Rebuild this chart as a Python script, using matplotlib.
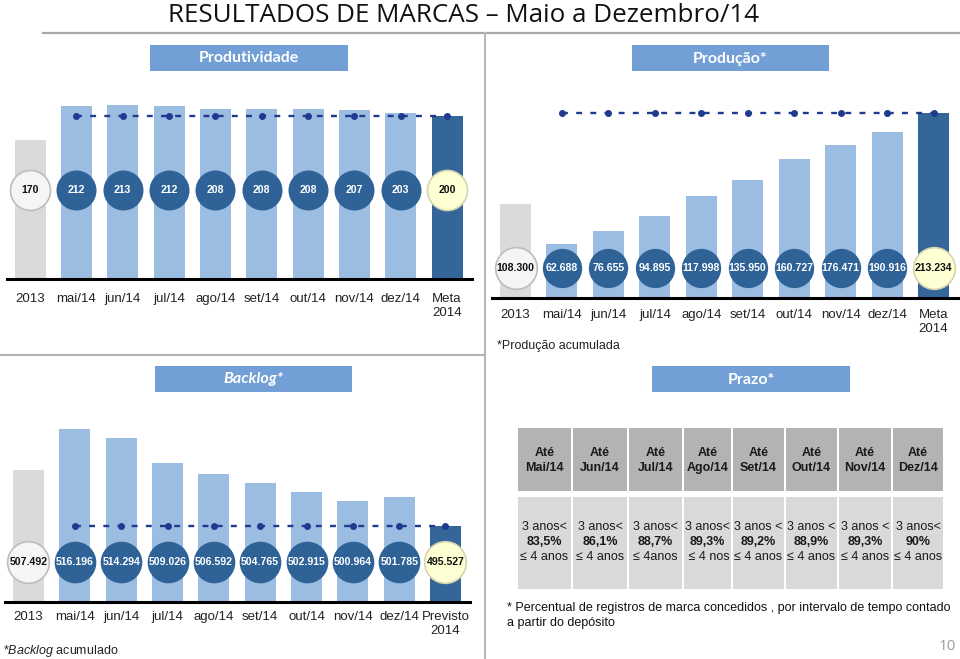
import numpy as np
import matplotlib.pyplot as plt
from matplotlib.patches import Rectangle

plt.rcParams['font.family'] = ['Liberation Sans', 'DejaVu Sans']
plt.rcParams['mathtext.fontset'] = 'custom'
plt.rcParams['mathtext.rm'] = 'Liberation Sans'
plt.rcParams['mathtext.it'] = 'Liberation Sans:italic'

W, H = 960, 659

# data
meses_top = ['2013', 'mai/14', 'jun/14', 'jul/14', 'ago/14', 'set/14',
             'out/14', 'nov/14', 'dez/14', 'Meta\n2014']
meses_backlog = meses_top[:-1] + ['Previsto\n2014']
produtividade = [170, 212, 213, 212, 208, 208, 208, 207, 203, 200]
producao = [108300, 62688, 76655, 94895, 117998, 135950, 160727, 176471, 190916, 213234]
backlog = [507492, 516196, 514294, 509026, 506592, 504765, 502915, 500964, 501785, 495527]

prazo_meses = ['Mai/14', 'Jun/14', 'Jul/14', 'Ago/14', 'Set/14', 'Out/14', 'Nov/14', 'Dez/14']
prazo_topo = ['3 anos<', '3 anos<', '3 anos<', '3 anos<', '3 anos <', '3 anos <', '3 anos <', '3 anos<']
prazo_pct = ['83,5%', '86,1%', '88,7%', '89,3%', '89,2%', '88,9%', '89,3%', '90%']
prazo_base = ['≤ 4 anos', '≤ 4 anos', '≤ 4anos', ' ≤ 4 nos', '≤ 4 anos', '≤ 4 anos', '≤ 4 anos', '≤ 4 anos']

GRAY_BAR = '#DADADA'
LIGHT = '#9BBDE2'
DARK = '#346699'
CIRC = '#2F6398'
NAVY = '#1F3A8F'
BOX = '#729FD5'


def fmt(v):
    return f'{v:,}'.replace(',', '.')


fig = plt.figure(figsize=(W / 100, H / 100), dpi=100)

# background layer in pixel coordinates
bg = fig.add_axes([0, 0, 1, 1])
bg.set_xlim(0, W)
bg.set_ylim(H, 0)
bg.axis('off')

bg.text(464, 15, 'RESULTADOS DE MARCAS – Maio a Dezembro/14', ha='center', va='center',
        fontsize=18.7, family='Open Sans', color='#111111')
bg.plot([43, W], [33, 33], color='#A8A8A8', lw=1.6)
bg.plot([485, 485], [33, H], color='#B8B8B8', lw=1.5)
bg.plot([0, 485], [355, 355], color='#B8B0B0', lw=1.5)

for (x0, x1, y0, y1, txt, it) in [(150, 348, 45, 71, 'Produtividade', 'normal'),
                                  (632, 829, 45, 71, 'Produção*', 'normal'),
                                  (155, 352, 366, 392, 'Backlog*', 'italic'),
                                  (652, 850, 366, 392, 'Prazo*', 'normal')]:
    bg.add_patch(Rectangle((x0, y0), x1 - x0, y1 - y0, color=BOX, lw=0))
    bg.text((x0 + x1) / 2, (y0 + y1) / 2 + 0.5, txt, ha='center', va='center', color='white',
            fontsize=11.5, fontweight='bold', style=it, family='Lato')


def panel(x0, x1, ytop, ybase, c0, c9, vbase, vpx, values, labels, cy, pad, s_dark, s_end):
    ax = fig.add_axes([x0 / W, 1 - ybase / H, (x1 - x0) / W, (ybase - ytop) / H])
    ax.patch.set_alpha(0)
    sp = (c9 - c0) / 9
    ax.set_xlim((x0 - c0) / sp, (x1 - c0) / sp)
    ax.set_ylim(vbase, vbase + (ybase - ytop) * vpx)
    for s in ax.spines.values():
        s.set_visible(False)
    ax.set_yticks([])
    xs = np.arange(len(values))
    cols = [GRAY_BAR] + [LIGHT] * 8 + [DARK]
    ax.bar(xs, np.array(values) - vbase, bottom=vbase, width=31 / sp, color=cols, zorder=1)
    ax.axhline(vbase, color='black', lw=2.2, zorder=2, clip_on=False)
    ax.plot(xs[1:], [values[-1]] * 9, ls=(0, (2.5, 3.5)), color=NAVY, lw=1.7,
            marker='o', ms=4, zorder=3)
    ax.set_xticks(xs)
    ax.set_xticklabels(labels, fontsize=9.5, color='#222222')
    ax.tick_params(axis='x', length=0, pad=pad)
    fy = (ybase - cy) / (ybase - ytop)
    tr = ax.get_xaxis_transform()
    ax.scatter(xs[1:-1], [fy] * 8, s=s_dark, color=CIRC, transform=tr, zorder=4, lw=0)
    ax.scatter([0], [fy], s=s_end, facecolor='#F5F5F5', edgecolor='#BDBDBD', lw=1.2,
               transform=tr, zorder=4)
    ax.scatter([9], [fy], s=s_end, facecolor='#FFFFD4', edgecolor='#D4D4B0', lw=1.2,
               transform=tr, zorder=4)
    for i, v in enumerate(values):
        c = 'white' if 0 < i < 9 else '#111111'
        ax.text(i, fy, fmt(v), transform=tr, ha='center', va='center', color=c,
                fontsize=7.6, fontweight='bold', zorder=5)
    return ax


panel(7, 472, 80, 279, 30, 447, 0, 212 / 173, produtividade, meses_top, 190, 10.4, 830, 830)
panel(492, 958, 90, 298, 515.5, 933.5, 0, 213234 / 185, producao, meses_top, 268, 8.2, 800, 900)
panel(5, 470, 410, 602, 28.5, 445.5, 479468, 212.3, backlog, meses_backlog, 562, 6.8, 900, 900)

bg.text(497, 346, '*Produção acumulada', ha='left', va='center', fontsize=9, color='#222222')
bg.text(3, 651, '*$\\it{Backlog}$ acumulado', ha='left', va='center', fontsize=9, color='#222222')

# prazo table
edges = [517, 572, 628, 683, 732, 785, 838, 892, 944]
for i in range(8):
    xa, xb = edges[i] + 1, edges[i + 1] - 1
    xc = (xa + xb) / 2
    bg.add_patch(Rectangle((xa, 428), xb - xa, 63, color='#B3B3B3', lw=0))
    bg.add_patch(Rectangle((xa, 497), xb - xa, 92, color='#D9D9D9', lw=0))
    bg.text(xc, 453, 'Até', ha='center', va='center', fontsize=9, fontweight='bold', color='#1A1A1A')
    bg.text(xc, 468, prazo_meses[i], ha='center', va='center', fontsize=9, fontweight='bold',
            color='#1A1A1A')
    bg.text(xc, 527, prazo_topo[i], ha='center', va='center', fontsize=9, color='#1A1A1A')
    bg.text(xc, 542, prazo_pct[i], ha='center', va='center', fontsize=9, fontweight='bold',
            color='#1A1A1A')
    bg.text(xc, 557, prazo_base[i], ha='center', va='center', fontsize=9, color='#1A1A1A')

bg.text(507, 608, '* Percentual de registros de marca concedidos , por intervalo de tempo contado',
        ha='left', va='center', fontsize=9, color='#111111')
bg.text(507, 623, 'a partir do depósito', ha='left', va='center', fontsize=9, color='#111111')
bg.text(956, 647, '10', ha='right', va='center', fontsize=11, color='#9A9A9A', family='Open Sans')

fig.savefig('out.png', dpi=100)
